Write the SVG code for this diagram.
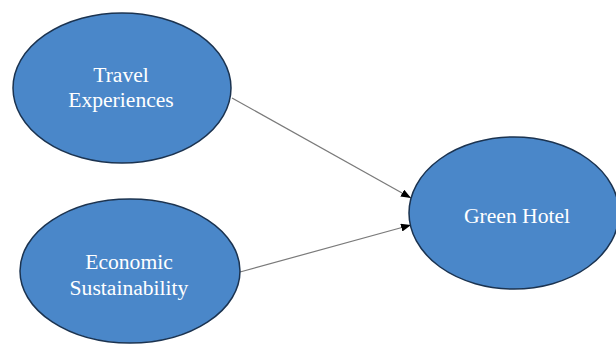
<svg xmlns="http://www.w3.org/2000/svg" width="616" height="344" viewBox="0 0 616 344">
<style>
.node{fill:#4a87c9;stroke:#1b3350;stroke-width:1.5}
.lbl{font-family:"Liberation Serif","Times New Roman",serif;font-size:21.6px;fill:#ffffff;text-anchor:middle}
.edge{stroke:#7a7a7a;stroke-width:1.2;fill:none}
</style>
<defs>
<marker id="arr" markerWidth="10" markerHeight="8" refX="10" refY="4" orient="auto" markerUnits="userSpaceOnUse">
<path d="M0,0 L10,4 L0,8 Z" fill="#000"/>
</marker>
</defs>
<rect width="616" height="344" fill="#fff"/>
<g id="connectors">
<line class="edge" x1="232" y1="98" x2="411" y2="198" marker-end="url(#arr)"/>
<line class="edge" x1="240" y1="272" x2="411" y2="225" marker-end="url(#arr)"/>
</g>
<g id="travel">
<ellipse class="node" cx="122" cy="88" rx="109" ry="75"/>
<text class="lbl" x="121" y="82">Travel</text>
<text class="lbl" x="121" y="107">Experiences</text>
</g>
<g id="economic">
<ellipse class="node" cx="130" cy="271" rx="110" ry="72"/>
<text class="lbl" x="129" y="269">Economic</text>
<text class="lbl" x="129" y="295">Sustainability</text>
</g>
<g id="green">
<ellipse class="node" cx="514" cy="213" rx="105" ry="76"/>
<text class="lbl" x="517" y="223">Green Hotel</text>
</g>
</svg>
